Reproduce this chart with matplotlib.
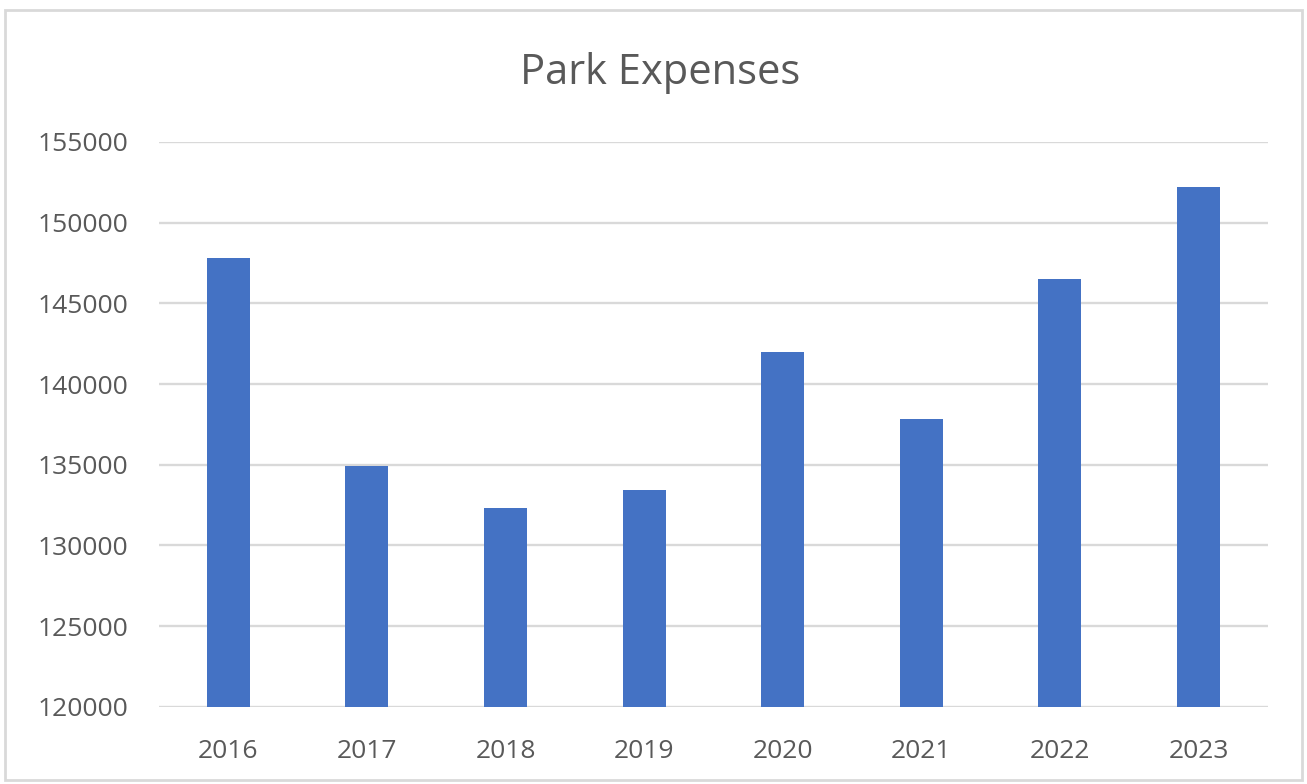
import matplotlib
matplotlib.use("Agg")
import matplotlib.pyplot as plt
from matplotlib.patches import Rectangle

years = ["2016", "2017", "2018", "2019", "2020", "2021", "2022", "2023"]
expenses = [147800, 134900, 132300, 133400, 142000, 137800, 146500, 152200]
y_ticks = [120000, 125000, 130000, 135000, 140000, 145000, 150000, 155000]

plt.rcParams["font.family"] = ["Open Sans", "DejaVu Sans"]
text_color = "#595959"

fig = plt.figure(figsize=(13.07, 7.84), dpi=100)
ax = fig.add_axes([0.1217, 0.0986, 0.8483, 0.7203])

# outer chart border
fig.patches.append(Rectangle((0.004, 0.005), 0.992, 0.982, transform=fig.transFigure,
                             fill=False, edgecolor="#d9d9d9", linewidth=2))

x = range(len(years))
ax.bar(x, expenses, width=0.31, color="#4472C4", zorder=3)

ax.set_xlim(-0.5, len(years) - 0.5)
ax.set_ylim(y_ticks[0], y_ticks[-1])
ax.set_yticks(y_ticks)
ax.set_yticklabels([str(t) for t in y_ticks])
ax.set_xticks(list(x))
ax.set_xticklabels(years)

ax.grid(axis="y", color="#d9d9d9", linewidth=1.7, zorder=0)
for s in ax.spines.values():
    s.set_visible(False)
ax.tick_params(axis="both", length=0, labelsize=19, colors=text_color)
ax.tick_params(axis="y", pad=22)
ax.tick_params(axis="x", pad=23)

fig.text(0.505, 0.907, "Park Expenses", ha="center", va="center", fontsize=30, color=text_color)

fig.savefig("out.png", dpi=100)
